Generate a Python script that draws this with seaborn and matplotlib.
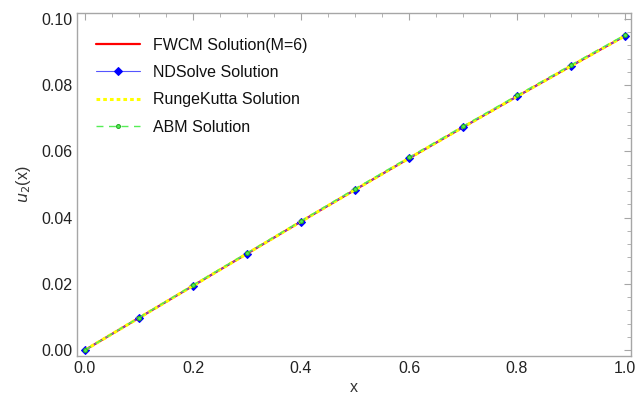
import numpy as np
import pandas as pd
import matplotlib
matplotlib.use("Agg")
import matplotlib.pyplot as plt
import seaborn as sns
from matplotlib.ticker import MultipleLocator

x_vals = [0.0, 0.1, 0.2, 0.3, 0.4, 0.5, 0.6, 0.7, 0.8, 0.9, 1.0]
fwcm = [0.0, 0.0097, 0.0194, 0.0291, 0.0388, 0.0484, 0.0579, 0.0673, 0.0766, 0.0858, 0.0949]
ndsolve = [0.0, 0.0097, 0.0194, 0.0291, 0.0388, 0.0484, 0.0579, 0.0673, 0.0766, 0.0858, 0.0949]
rungekutta = [0.0, 0.0097, 0.0194, 0.0291, 0.0388, 0.0484, 0.0579, 0.0673, 0.0766, 0.0858, 0.0949]
abm = [0.0, 0.0098, 0.0196, 0.0293, 0.0390, 0.0487, 0.0582, 0.0676, 0.0769, 0.0861, 0.0952]

sns.set_style("white")
plt.rcParams['font.family'] = ['Liberation Sans', 'DejaVu Sans']

df = pd.DataFrame({"x": x_vals, "FWCM": fwcm, "ND": ndsolve, "RK": rungekutta, "ABM": abm})

fig = plt.figure(figsize=(6.39, 3.97), dpi=100)
ax = fig.add_axes([77/639, 1-356/397, (631-77)/639, (356-13)/397])

sns.lineplot(data=df, x="x", y="FWCM", ax=ax, color="#ff0000", lw=1.6,
             label="FWCM Solution(M=6)", zorder=2)
sns.lineplot(data=df, x="x", y="ND", ax=ax, color="#5555ff", lw=0.8, marker="D",
             markersize=4.5, markeredgecolor="#0000ff", markerfacecolor="#0000ff",
             label="NDSolve Solution", zorder=3)
sns.lineplot(data=df, x="x", y="RK", ax=ax, color="#ffff00", lw=2.2, linestyle=(0, (1.2, 1.0)),
             label="RungeKutta Solution", zorder=4)
sns.lineplot(data=df, x="x", y="ABM", ax=ax, color="#55ee55", lw=1.0, linestyle=(0, (5, 4)),
             marker="o", markersize=2.8, markeredgecolor="#22aa22", markerfacecolor="#55ee55",
             label="ABM Solution", zorder=5)

ax.set_xlim(-8/540, 1 + 6/540)
ax.set_ylim(-6/3310, 0.1 + 6/3310)
ax.xaxis.set_major_locator(MultipleLocator(0.2))
ax.xaxis.set_minor_locator(MultipleLocator(0.05))
ax.yaxis.set_major_locator(MultipleLocator(0.02))
ax.yaxis.set_minor_locator(MultipleLocator(0.004))
ax.xaxis.set_major_formatter(matplotlib.ticker.FormatStrFormatter('%.1f'))
ax.yaxis.set_major_formatter(matplotlib.ticker.FormatStrFormatter('%.2f'))

fc = "#a6a6a6"
for s in ax.spines.values():
    s.set_color(fc)
    s.set_linewidth(1.0)
ax.tick_params(which="both", direction="in", top=True, right=True, color=fc,
               labelsize=11.5, labelcolor="#222222")
ax.tick_params(which="major", length=5, width=0.8)
ax.tick_params(which="minor", length=3, width=0.6)

ax.set_xlabel("x", fontsize=11.5, color="#333333", labelpad=3)
ax.set_ylabel(r"$u_2$(x)", fontsize=11.5, color="#333333", labelpad=6)

leg = ax.legend(loc="upper left", frameon=False, fontsize=11.5, handlelength=2.8,
                labelspacing=0.78, borderaxespad=0.6, bbox_to_anchor=(0.005, 0.975))
for t in leg.get_texts():
    t.set_color("#111111")

fig.savefig("out.png", dpi=100)
